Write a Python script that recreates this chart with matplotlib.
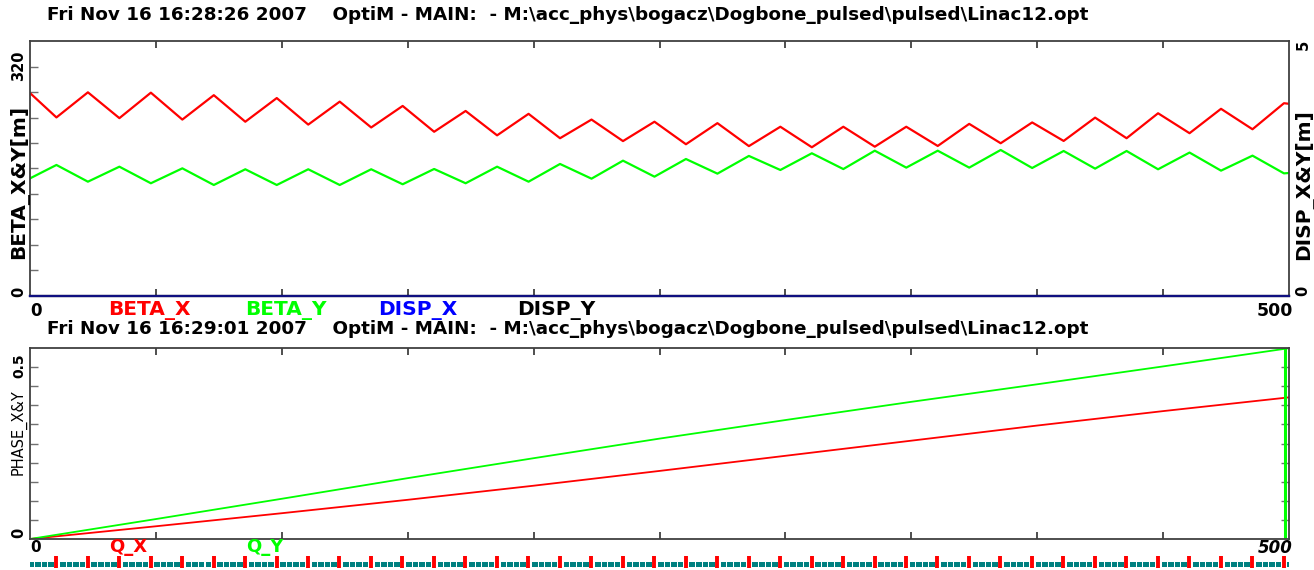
import matplotlib
matplotlib.use('Agg')  # no display

import matplotlib.pyplot as plt
import numpy as np

# beta functions (m) at the extrema of each half cell
beta_s = [0, 10.5, 23, 35.5, 48, 60.5, 73, 85.5, 98, 110.5, 123, 135.5, 148, 160.5,
          173, 185.5, 198, 210.5, 223, 235.5, 248, 260.5, 273, 285.5, 298, 310.5,
          323, 335.5, 348, 360.5, 373, 385.5, 398, 410.5, 423, 435.5, 448, 460.5,
          473, 485.5, 498, 500]
beta_x = [283, 249, 284, 248, 283.5, 246, 280, 243, 276, 239, 271, 235, 265, 229,
          258, 224, 254, 220, 246, 216, 243, 211.6, 241, 209, 236, 207.4, 236, 208.2,
          236, 209.2, 240, 213, 242, 216.2, 248.7, 220, 254.8, 227, 261, 232.5,
          268.8, 268]
beta_y = [164, 182.7, 159.4, 180.3, 157.2, 178, 154.8, 176.7, 154.8, 176.7, 154.8,
          176.7, 155.8, 177.1, 157.2, 180.3, 159.4, 184.1, 163.6, 188.7, 166.4, 191,
          170.6, 195.3, 175.7, 199, 177, 202.6, 179, 202.6, 179, 203.6, 178.5, 202.2,
          177.6, 202.2, 176.7, 200, 174.8, 195.7, 171, 171.5]

# dispersion is zero along the whole linac
disp_s = [0, 500]
disp_x = [0, 0]
disp_y = [0, 0]

# betatron phase advance (units of 2*pi)
phase_s = [0, 50, 100, 150, 200, 250, 300, 350, 400, 450, 500]
phase_x = [0, 0.037, 0.075, 0.114, 0.155, 0.198, 0.242, 0.286, 0.330, 0.372, 0.412]
phase_y = [0, 0.058, 0.117, 0.177, 0.235, 0.292, 0.346, 0.399, 0.450, 0.502, 0.555]
q_y_end = 498.4

# quadrupole positions (m)
quad_s = [10.4, 22.9, 35.4, 47.9, 60.4, 72.9, 85.4, 97.9, 110.4, 122.9,
          135.4, 147.9, 160.4, 172.9, 185.4, 197.9, 210.4, 222.9, 235.4, 247.9,
          260.4, 272.9, 285.4, 297.9, 310.4, 322.9, 335.4, 347.9, 360.4, 372.9,
          385.4, 397.9, 410.4, 422.9, 435.4, 447.9, 460.4, 472.9, 485.4, 497.9]

title_top = r"Fri Nov 16 16:28:26 2007    OptiM - MAIN:  - M:\acc_phys\bogacz\Dogbone_pulsed\pulsed\Linac12.opt"
title_bot = r"Fri Nov 16 16:29:01 2007    OptiM - MAIN:  - M:\acc_phys\bogacz\Dogbone_pulsed\pulsed\Linac12.opt"

RED, GREEN, BLUE, TEAL = '#ff0000', '#00ff00', '#0000ff', '#008080'
FRAME = '#404040'

W, H = 1314, 570
fig = plt.figure(figsize=(W / 100, H / 100), dpi=100)


def box(x0, y0, x1, y1):
    return [x0 / W, 1 - y1 / H, (x1 - x0) / W, (y1 - y0) / H]


def put(x, y, s, **kw):
    kw.setdefault('ha', 'center')
    kw.setdefault('va', 'center')
    fig.text(x / W, 1 - y / H, s, **kw)


def frame(ax, ytop):
    for sp in ax.spines.values():
        sp.set_color(FRAME)
        sp.set_linewidth(1.3)
    ax.set_xlim(0, 500)
    ax.set_ylim(0, ytop)
    ax.set_xticks(np.arange(50, 500, 50))
    ax.set_yticks(np.arange(1, 10) * ytop / 10)
    ax.tick_params(axis='x', direction='in', top=True, bottom=True, length=5,
                   width=1.3, color=FRAME, labelbottom=False)
    ax.tick_params(axis='y', direction='in', left=True, right=True, length=6,
                   width=1, color='#707070', labelleft=False)


# ---- beta functions ----
ax1 = fig.add_axes(box(30, 41, 1289, 296))
frame(ax1, 320 * 10 / 9)
ax1.plot(beta_s, beta_x, color=RED, lw=1.6)
ax1.plot(beta_s, beta_y, color=GREEN, lw=1.6)

ax1r = ax1.twinx()
ax1r.set_ylim(0, 5)
ax1r.set_yticks([])
for sp in ax1r.spines.values():
    sp.set_visible(False)
ax1r.plot(disp_s, disp_y, color='black', lw=1.6, clip_on=False)
ax1r.plot(disp_s, disp_x, color='#101080', lw=1.6, clip_on=False)

put(47, 15, title_top, ha='left', fontsize=13.2, fontweight='bold')
put(19, 66, '320', rotation=90, fontsize=10.5, fontweight='bold')
put(19, 292, '0', rotation=90, fontsize=10.5, fontweight='bold')
put(19, 182, 'BETA_X&Y[m]', rotation=90, fontsize=14.5, fontweight='bold')
put(1303, 45, '5', rotation=90, fontsize=10.5, fontweight='bold')
put(1303, 291, '0', rotation=90, fontsize=10.5, fontweight='bold')
put(1304, 185, 'DISP_X&Y[m]', rotation=90, fontsize=14.5, fontweight='bold')

put(30, 311, '0', ha='left', fontsize=12, fontweight='bold')
put(1293, 311, '500', ha='right', fontsize=12.5, fontweight='bold')
put(149, 311, 'BETA_X', fontsize=14.5, fontweight='bold', color=RED)
put(286, 311, 'BETA_Y', fontsize=14.5, fontweight='bold', color=GREEN)
put(418, 311, 'DISP_X', fontsize=14.5, fontweight='bold', color=BLUE)
put(556, 311, 'DISP_Y', fontsize=14.5, fontweight='bold', color='black')

# ---- phase advance ----
ax2 = fig.add_axes(box(30, 348, 1289, 539))
frame(ax2, 0.5 * 10 / 9)
ax2.plot(phase_s, phase_x, color=RED, lw=1.3)
ax2.plot(phase_s, phase_y, color=GREEN, lw=1.3)
ax2.axvline(q_y_end, color=GREEN, lw=2.2)

put(47, 329, title_bot, ha='left', fontsize=13.2, fontweight='bold')
put(19, 366, '0.5', rotation=90, fontsize=10, fontweight='bold')
put(19, 533, '0', rotation=90, fontsize=10.5, fontweight='bold')
put(19, 432, 'PHASE_X&Y', rotation=90, fontsize=10.5)

put(30, 548, '0', ha='left', fontsize=11, fontweight='bold')
put(1293, 548, '500', ha='right', fontsize=12, fontweight='bold', style='italic')
put(128, 547, 'Q_X', fontsize=13, fontweight='bold', color=RED)
put(265, 547, 'Q_Y', fontsize=13, fontweight='bold', color=GREEN)

# ---- lattice strip: accelerating cavities and quadrupoles ----
ax3 = fig.add_axes(box(30, 555, 1289, 570))
ax3.set_xlim(0, 500)
ax3.set_ylim(0, 1)
ax3.axis('off')
cav_offsets = [1.5, 4.1, 6.7, 9.3]
for q in [quad_s[0] - 12.5] + quad_s:
    spans = [(q + o, 2.2) for o in cav_offsets if q + o < 500]
    ax3.broken_barh(spans, (0.2, 0.36), facecolors=TEAL)
ax3.vlines(quad_s, 0.15, 0.95, color=RED, lw=2.8)

fig.savefig('out.png', dpi=100)
